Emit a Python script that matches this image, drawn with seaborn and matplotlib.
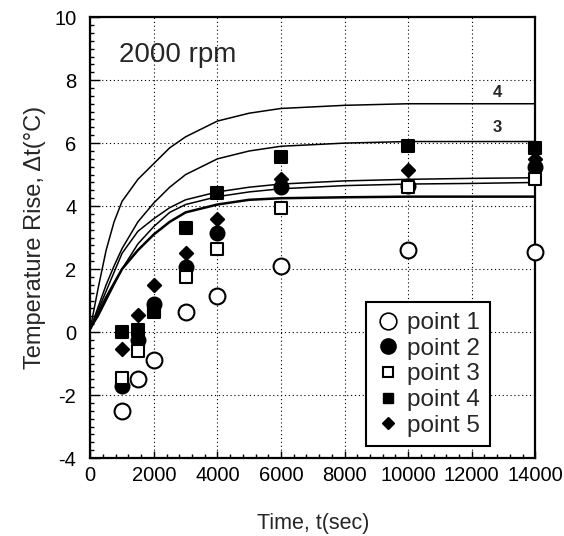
import matplotlib
matplotlib.use("Agg")
import matplotlib.pyplot as plt
from matplotlib.ticker import MultipleLocator
from matplotlib.lines import Line2D
import seaborn as sns
import pandas as pd

# measured points
t_meas = [1000, 1500, 2000, 3000, 4000, 6000, 10000, 14000]
point1 = [-2.5, -1.5, -0.9, 0.65, 1.15, 2.1, 2.6, 2.55]
point2 = [-1.7, -0.25, 0.9, 2.05, 3.15, 4.6, 4.65, 5.25]
point3 = [-1.45, -0.6, 0.65, 1.75, 2.65, 3.95, 4.6, 4.85]
point4 = [0.0, 0.05, 0.7, 3.3, 4.4, 5.55, 5.9, 5.85]
point5 = [-0.55, 0.55, 1.5, 2.5, 3.6, 4.85, 5.15, 5.5]

# calculated curves
t_calc = [0, 250, 500, 750, 1000, 1500, 2000, 2500, 3000, 4000, 5000, 6000, 8000, 10000, 12000, 14000]
curve4 = [0.1, 1.4, 2.6, 3.5, 4.15, 4.85, 5.35, 5.85, 6.2, 6.7, 6.95, 7.1, 7.2, 7.25, 7.25, 7.25]
curve3 = [0.1, 0.8, 1.5, 2.1, 2.65, 3.5, 4.1, 4.6, 5.0, 5.5, 5.75, 5.9, 6.0, 6.05, 6.05, 6.05]
curveC = [0.1, 0.7, 1.3, 1.9, 2.5, 3.2, 3.6, 3.95, 4.2, 4.45, 4.6, 4.7, 4.8, 4.85, 4.88, 4.9]
curveD = [0.1, 0.5, 1.0, 1.5, 2.0, 2.8, 3.35, 3.8, 4.05, 4.3, 4.45, 4.55, 4.65, 4.7, 4.72, 4.75]
curveE = [0.1, 0.6, 1.1, 1.55, 2.0, 2.6, 3.1, 3.5, 3.8, 4.05, 4.2, 4.25, 4.28, 4.3, 4.3, 4.3]

sns.set_style("white")
plt.rcParams['font.family'] = ['Liberation Sans', 'DejaVu Sans']
plt.rcParams['axes.unicode_minus'] = False

fig = plt.figure(figsize=(5.64, 5.36), dpi=100)
ax = fig.add_axes([0.16, 0.1455, 0.789, 0.8225])

for c, lw in [(curve4, 1.1), (curve3, 1.1), (curveC, 1.1), (curveD, 1.1), (curveE, 1.8)]:
    sns.lineplot(x=t_calc, y=c, ax=ax, color="black", linewidth=lw, zorder=2)

series = [
    ("point 1", point1, "o", "white", 130),
    ("point 2", point2, "o", "black", 100),
    ("point 3", point3, "s", "white", 85),
    ("point 5", point5, "D", "black", 45),
    ("point 4", point4, "s", "black", 85),
]
for name, vals, m, fc, s in series:
    df = pd.DataFrame({"t": t_meas, "v": vals})
    sns.scatterplot(data=df, x="t", y="v", ax=ax, marker=m, s=s,
                    facecolor=fc, edgecolor="black", linewidth=1.5, zorder=4,
                    clip_on=False)

ax.set_xlim(0, 14000)
ax.set_ylim(-4, 10)
ax.xaxis.set_major_locator(MultipleLocator(2000))
ax.xaxis.set_minor_locator(MultipleLocator(400))
ax.yaxis.set_major_locator(MultipleLocator(2))
ax.yaxis.set_minor_locator(MultipleLocator(0.25))
ax.grid(True, which="major", color="black", linestyle=(0, (1, 2.5)), linewidth=0.8)
ax.tick_params(which="both", direction="in", left=True, bottom=True, colors="black",
               labelsize=14.5, width=1)
ax.tick_params(axis="y", which="major", length=7, pad=10)
ax.tick_params(axis="x", which="major", length=5, pad=6)
ax.tick_params(which="minor", length=3)
for sp in ax.spines.values():
    sp.set_color("black")
    sp.set_linewidth(1.6)

ax.set_xlabel("Time, t(sec)", fontsize=15.5, labelpad=20)
ax.set_ylabel("Temperature Rise, \u0394t(\u00b0C)", fontsize=17, labelpad=6)

ax.text(900, 8.8, "2000 rpm", fontsize=20, va="center", ha="left")
ax.text(12650, 7.62, "4", fontsize=12, fontweight="bold", va="center")
ax.text(12650, 6.5, "3", fontsize=12, fontweight="bold", va="center")

handles = [
    Line2D([], [], marker="o", ls="", ms=12, mfc="white", mec="black", mew=1.2),
    Line2D([], [], marker="o", ls="", ms=11, mfc="black", mec="black"),
    Line2D([], [], marker="s", ls="", ms=7.5, mfc="white", mec="black", mew=1.5),
    Line2D([], [], marker="s", ls="", ms=7, mfc="black", mec="black"),
    Line2D([], [], marker="D", ls="", ms=6, mfc="black", mec="black"),
]
labels = ["point 1", "point 2", "point 3", "point 4", "point 5"]
leg = ax.legend(handles, labels, loc="upper left", bbox_to_anchor=(0.62, 0.353),
                fontsize=17.5, frameon=True, fancybox=False, edgecolor="black",
                framealpha=1, labelspacing=0.15, handletextpad=0.3, handlelength=1.0,
                borderpad=0.4, borderaxespad=0)
leg.get_frame().set_linewidth(1.5)
leg.set_zorder(5)

fig.savefig("out.png", dpi=100)
